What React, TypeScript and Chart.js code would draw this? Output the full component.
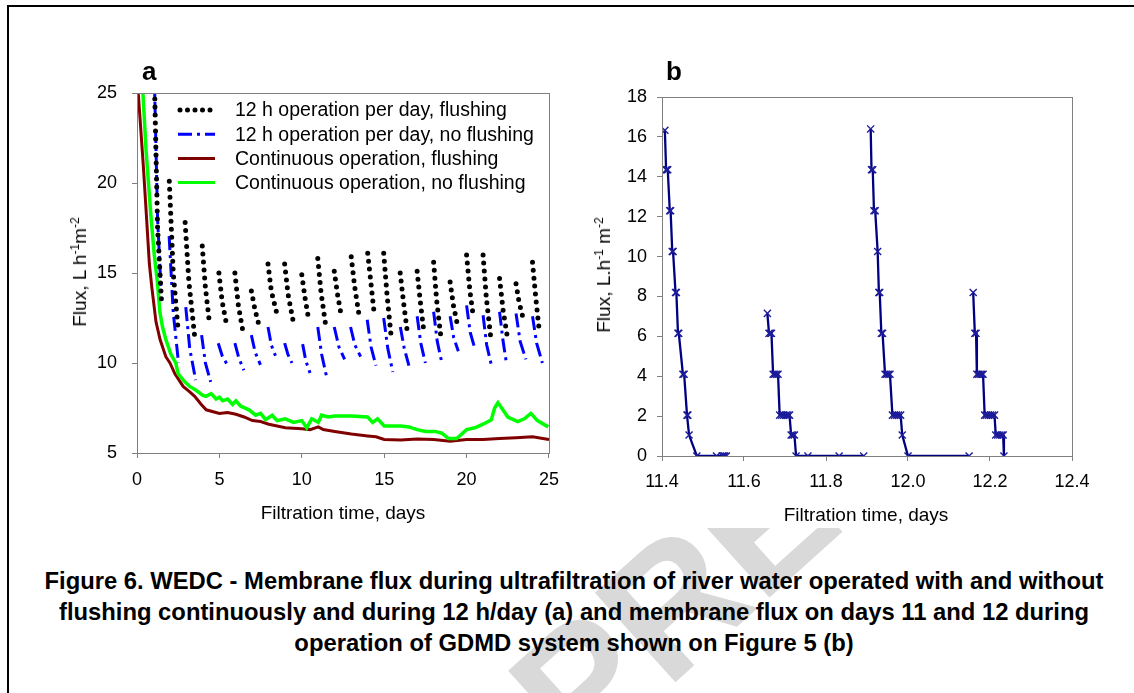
import React, { useEffect, useRef } from "react";
import { Chart, registerables } from "chart.js";

Chart.register(...registerables);

const FONT = "'Liberation Sans', Arial, Helvetica, sans-serif";

// ---------------- Panel a data ----------------
const xTicksA = [0, 5, 10, 15, 20, 25];
const yTicksA = [5, 10, 15, 20, 25];

const legendLabelsA = [
  "12 h operation per day, flushing",
  "12 h operation per day, no flushing",
  "Continuous operation, flushing",
  "Continuous operation, no flushing",
];

// 12 h operation per day, flushing (one sub-array per daily cycle)
const flushCycleDays = [
  [1.05, 1.25, 1.5], [1.96, 2.2, 2.51], [2.92, 3.15, 3.52], [3.96, 4.15, 4.4],
  [4.97, 5.17, 5.42], [5.94, 6.15, 6.42], [6.94, 7.15, 7.43], [7.95, 8.15, 8.5],
  [8.96, 9.17, 9.5], [10.0, 10.2, 10.42], [10.97, 11.17, 11.45], [11.97, 12.17, 12.4],
  [13.0, 13.2, 13.45], [14.0, 14.2, 14.4], [14.97, 15.17, 15.42], [15.97, 16.17, 16.42],
  [17.0, 17.18, 17.4], [18.0, 18.18, 18.42], [19.0, 19.2, 19.45], [20.0, 20.2, 20.42],
  [21.0, 21.2, 21.48], [22.0, 22.22, 22.5], [23.0, 23.18, 23.4], [24.0, 24.2, 24.42],
];
const flushCycleFlux = [
  [26, 17.5, 13.2], [20.1, 15.0, 11.7], [17.8, 14.5, 11.3], [16.5, 14.2, 12.2],
  [15.0, 13.4, 12.2], [15.0, 13.2, 11.8], [14.0, 13.0, 12.0], [15.5, 14.0, 12.7],
  [15.5, 13.8, 12.2], [14.9, 13.6, 12.4], [15.8, 13.9, 12.1], [15.1, 13.8, 12.6],
  [15.9, 14.3, 12.8], [16.1, 14.4, 12.7], [16.1, 13.8, 11.5], [15.0, 13.4, 11.6],
  [15.1, 13.5, 11.8], [15.6, 13.5, 11.6], [14.5, 13.2, 12.1], [16.0, 14.0, 12.5],
  [16.0, 13.6, 11.3], [14.7, 12.9, 11.3], [14.4, 13.4, 12.6], [15.6, 13.6, 11.7],
];

// 12 h operation per day, no flushing
const noFlushCycleDays = [
  [1.05, 1.25, 1.45], [1.95, 2.2, 2.52], [2.96, 3.2, 3.56], [3.92, 4.15, 4.47],
  [4.93, 5.17, 5.48], [5.94, 6.17, 6.48], [6.94, 7.17, 7.49], [7.95, 8.15, 8.4],
  [8.96, 9.15, 9.4], [10.05, 10.25, 10.5], [10.97, 11.2, 11.5], [11.97, 12.25, 12.6],
  [12.96, 13.22, 13.57], [13.97, 14.2, 14.5], [14.97, 15.22, 15.52], [15.98, 16.22, 16.5],
  [17.0, 17.22, 17.5], [18.0, 18.22, 18.5], [19.0, 19.22, 19.5], [20.0, 20.22, 20.5],
  [21.0, 21.22, 21.5], [22.0, 22.2, 22.4], [23.0, 23.25, 23.6], [24.0, 24.25, 24.6],
];
const noFlushCycleFlux = [
  [26, 18.0, 14.2], [17.05, 12.8, 10.0], [13.1, 10.8, 9.05], [11.55, 10.0, 8.95],
  [11.1, 10.4, 9.9], [11.1, 10.3, 9.6], [11.55, 10.6, 9.9], [12.0, 11.0, 10.4],
  [11.1, 10.5, 10.0], [11.05, 10.1, 9.45], [12.0, 10.5, 9.25], [12.0, 10.9, 10.2],
  [12.0, 11.0, 10.35], [12.4, 10.9, 9.85], [12.5, 10.8, 9.5], [12.0, 10.8, 9.85],
  [12.6, 11.1, 10.0], [12.85, 11.2, 10.0], [12.6, 11.4, 10.65], [13.2, 11.7, 10.8],
  [12.65, 11.0, 9.9], [12.85, 11.3, 10.1], [12.75, 11.2, 10.2], [12.6, 11.1, 10.0],
];

// Continuous operation, flushing
const contFlushDays = [
  0.0, 0.38, 0.55, 0.75, 0.9, 1.15, 1.4, 1.75, 2.0, 2.3, 2.8, 3.2, 3.5, 3.9, 4.2,
  5.0, 5.5, 6.0, 6.5, 7.0, 7.5, 8.0, 8.5, 9.0, 10.0, 10.5, 11.0, 11.3, 12.0, 13.0,
  14.0, 14.5, 15.0, 16.0, 17.0, 18.0, 19.0, 20.0, 21.0, 22.0, 23.0, 24.0, 25.0,
];
const contFlushFlux = [
  26, 21, 18.5, 15.5, 14.2, 12.3, 11.3, 10.35, 10.0, 9.4, 8.7, 8.4, 8.15, 7.7, 7.4,
  7.2, 7.25, 7.15, 7.0, 6.8, 6.75, 6.6, 6.5, 6.4, 6.35, 6.3, 6.45, 6.3, 6.2, 6.05,
  5.95, 5.9, 5.75, 5.72, 5.78, 5.75, 5.65, 5.75, 5.75, 5.8, 5.85, 5.9, 5.75,
];

// Continuous operation, no flushing
const contNoFlushDays = [
  0.3, 0.55, 0.85, 1.05, 1.25, 1.39, 1.55, 1.75, 2.05, 2.35, 2.5, 2.86, 3.2, 3.56,
  4.0, 4.17, 4.5, 4.8, 5.0, 5.2, 5.5, 5.8, 6.0, 6.3, 6.8, 7.2, 7.5, 7.8, 8.2, 8.5,
  9.0, 9.5, 10.0, 10.3, 10.6, 11.0, 11.2, 11.6, 12.0, 13.0, 14.0, 14.3, 14.6, 15.0,
  16.0, 16.5, 17.0, 17.5, 18.1, 18.5, 18.9, 19.4, 20.0, 20.5, 21.0, 21.5, 21.7, 21.9,
  22.2, 22.5, 23.1, 23.5, 23.9, 24.3, 24.95,
];
const contNoFlushFlux = [
  26, 21.8, 18.1, 16.0, 14.4, 12.8, 12.0, 11.3, 10.5, 10.0, 9.4, 9.0, 8.7, 8.5,
  8.2, 8.15, 8.3, 8.0, 8.1, 7.9, 8.0, 7.7, 7.9, 7.6, 7.4, 7.1, 7.2, 6.85, 7.1, 6.8,
  6.9, 6.7, 6.8, 6.4, 6.9, 6.7, 7.1, 7.0, 7.05, 7.05, 7.0, 6.7, 6.9, 6.5,
  6.5, 6.45, 6.3, 6.2, 6.2, 6.1, 5.8, 5.8, 6.3, 6.4, 6.6, 6.85, 7.5, 7.8,
  7.4, 7.0, 6.75, 6.9, 7.2, 6.8, 6.45,
];

// ---------------- Panel b data ----------------
const xTicksB = [11.4, 11.6, 11.8, 12.0, 12.2, 12.4];
const yTicksB = [0, 2, 4, 6, 8, 10, 12, 14, 16, 18];

const gdmdDays = [
  11.407, 11.41, 11.412, 11.414, 11.419, 11.421, 11.425, 11.427, 11.433, 11.435,
  11.439, 11.441, 11.451, 11.454, 11.461, 11.463, 11.466, 11.485, 11.533, 11.547,
  11.55, 11.553, 11.557, 11.56,
  11.657, 11.661, 11.664, 11.667, 11.671, 11.675, 11.679, 11.683, 11.687, 11.692,
  11.697, 11.703, 11.707, 11.711, 11.715, 11.719, 11.723, 11.727, 11.756, 11.832,
  11.892, 11.9,
  11.909, 11.911, 11.914, 11.917, 11.92, 11.926, 11.929, 11.931, 11.935, 11.938,
  11.944, 11.948, 11.952, 11.956, 11.962, 11.967, 11.972, 11.977, 11.982, 11.986,
  12.0, 12.149, 12.155,
  12.159, 12.163, 12.166, 12.168, 12.172, 12.176, 12.18, 12.183, 12.187, 12.191,
  12.196, 12.201, 12.206, 12.211, 12.214, 12.219, 12.224, 12.229, 12.232, 12.234,
];
const gdmdFlux = [
  16.33, 14.35, 14.35, 14.35, 12.3, 12.3, 10.25, 10.25, 8.2, 8.2,
  6.15, 6.15, 4.1, 4.1, 2.05, 2.05, 1.05, 0, 0, 0,
  0, 0, 0, null,
  7.15, 6.15, 6.15, 6.15, 4.1, 4.1, 4.1, 4.1, 2.05, 2.05,
  2.05, 2.05, 2.05, 2.05, 1.05, 1.05, 1.05, 0, 0, 0,
  0, null,
  16.4, 14.35, 14.35, 12.3, 12.3, 10.25, 8.2, 8.2, 6.15, 6.15,
  4.1, 4.1, 4.1, 4.1, 2.05, 2.05, 2.05, 2.05, 2.05, 1.05,
  0, 0, null,
  8.2, 6.15, 6.15, 4.1, 4.1, 4.1, 4.1, 4.1, 2.05, 2.05,
  2.05, 2.05, 2.05, 2.05, 1.05, 1.05, 1.05, 1.05, 1.05, 0,
];

// ---------------- helpers ----------------
function cyclesToPoints(days: number[][], flux: number[][]) {
  const pts: { x: number; y: number | null }[] = [];
  days.forEach((d, i) => {
    d.forEach((x, j) => pts.push({ x, y: flux[i][j] }));
    pts.push({ x: d[d.length - 1] + 0.01, y: null });
  });
  return pts;
}
function zipPoints(xs: number[], ys: (number | null)[]) {
  return xs.map((x, i) => ({ x, y: ys[i] }));
}

const COLORS = {
  flush: "#000000",
  noFlush: "#0000ff",
  contFlush: "#800000",
  contNoFlush: "#00ff00",
  navy: "#000080",
  axis: "#808080",
};

const boxPlugin = {
  id: "plotBox",
  afterDatasetsDraw(chart: any) {
    const { ctx, chartArea } = chart;
    ctx.save();
    ctx.strokeStyle = COLORS.axis;
    ctx.lineWidth = 1;
    ctx.strokeRect(
      Math.round(chartArea.left) + 0.5,
      Math.round(chartArea.top) + 0.5,
      Math.round(chartArea.right - chartArea.left),
      Math.round(chartArea.bottom - chartArea.top)
    );
    ctx.restore();
  },
};

const legendPluginA = {
  id: "legendA",
  afterDraw(chart: any) {
    const { ctx, chartArea } = chart;
    const x0 = chartArea.left + 41;
    const x1 = chartArea.left + 78;
    const tx = chartArea.left + 98;
    const styles = [
      { color: COLORS.flush, width: 5, dash: [0, 7.5], cap: "round" },
      { color: COLORS.noFlush, width: 3, dash: [14, 5, 3, 5], cap: "butt" },
      { color: COLORS.contFlush, width: 3, dash: [], cap: "butt" },
      { color: COLORS.contNoFlush, width: 3, dash: [], cap: "butt" },
    ];
    ctx.save();
    legendLabelsA.forEach((label, i) => {
      const y = chartArea.top + 17 + i * 24.2;
      const s = styles[i];
      ctx.beginPath();
      ctx.strokeStyle = s.color;
      ctx.lineWidth = s.width;
      ctx.lineCap = s.cap;
      ctx.setLineDash(s.dash);
      ctx.moveTo(x0 + (i === 0 ? 2 : 0), y);
      ctx.lineTo(x1, y);
      ctx.stroke();
      ctx.setLineDash([]);
      ctx.fillStyle = "#000";
      ctx.font = `19.5px ${FONT}`;
      ctx.textAlign = "left";
      ctx.textBaseline = "middle";
      ctx.fillText(label, tx, y + 1);
    });
    ctx.restore();
  },
};

function axisCommon(extra: any) {
  return {
    type: "linear",
    grid: {
      display: true,
      drawOnChartArea: false,
      drawTicks: true,
      tickLength: 5,
      color: COLORS.axis,
      tickColor: COLORS.axis,
    },
    border: { display: true, color: COLORS.axis, width: 1 },
    ...extra,
  };
}

function makeConfigA(): any {
  return {
    type: "line",
    data: {
      datasets: [
        {
          label: legendLabelsA[0],
          data: cyclesToPoints(flushCycleDays, flushCycleFlux),
          borderColor: COLORS.flush,
          borderWidth: 5,
          borderDash: [0, 8],
          borderCapStyle: "round",
          pointRadius: 0,
          order: 0,
        },
        {
          label: legendLabelsA[1],
          data: cyclesToPoints(noFlushCycleDays, noFlushCycleFlux),
          borderColor: COLORS.noFlush,
          borderWidth: 3,
          borderDash: [14, 5, 3, 5],
          pointRadius: 0,
          order: 1,
        },
        {
          label: legendLabelsA[2],
          data: zipPoints(contFlushDays, contFlushFlux),
          borderColor: COLORS.contFlush,
          borderWidth: 3,
          pointRadius: 0,
          order: 3,
        },
        {
          label: legendLabelsA[3],
          data: zipPoints(contNoFlushDays, contNoFlushFlux),
          borderColor: COLORS.contNoFlush,
          borderWidth: 3.5,
          pointRadius: 0,
          order: 2,
        },
      ],
    },
    options: {
      responsive: false,
      animation: false,
      devicePixelRatio: 1,
      spanGaps: false,
      layout: { padding: { top: 53, right: 19, left: 0, bottom: 0 } },
      plugins: { legend: { display: false }, tooltip: { enabled: false } },
      scales: {
        x: axisCommon({
          min: xTicksA[0],
          max: xTicksA[xTicksA.length - 1],
          afterFit: (s: any) => { s.height = 87; },
          afterBuildTicks: (s: any) => { s.ticks = xTicksA.map((v) => ({ value: v })); },
          ticks: { color: "#000", font: { family: FONT, size: 18 }, padding: 11, maxRotation: 0 },
        }),
        y: axisCommon({
          min: yTicksA[0],
          max: yTicksA[yTicksA.length - 1],
          afterFit: (s: any) => { s.width = 97; },
          afterBuildTicks: (s: any) => { s.ticks = yTicksA.map((v) => ({ value: v })); },
          ticks: { color: "#000", font: { family: FONT, size: 18 }, padding: 15 },
        }),
      },
    },
    plugins: [boxPlugin, legendPluginA],
  };
}

function makeConfigB(): any {
  return {
    type: "line",
    data: {
      datasets: [
        {
          label: "GDMD",
          data: zipPoints(gdmdDays, gdmdFlux),
          borderColor: COLORS.navy,
          borderWidth: 2.3,
          pointStyle: "crossRot",
          pointRadius: 5,
          pointBorderWidth: 1.4,
          pointBorderColor: "#1c1c9a",
          pointBackgroundColor: "#1c1c9a",
          spanGaps: false,
        },
      ],
    },
    options: {
      responsive: false,
      animation: false,
      devicePixelRatio: 1,
      layout: { padding: { top: 57, right: 28, left: 0, bottom: 0 } },
      plugins: { legend: { display: false }, tooltip: { enabled: false } },
      scales: {
        x: axisCommon({
          min: xTicksB[0],
          max: xTicksB[xTicksB.length - 1],
          afterFit: (s: any) => { s.height = 84; },
          afterBuildTicks: (s: any) => { s.ticks = xTicksB.map((v) => ({ value: v })); },
          ticks: {
            color: "#000",
            font: { family: FONT, size: 18 },
            padding: 10,
            maxRotation: 0,
            callback: (v: any) => Number(v).toFixed(1),
          },
        }),
        y: axisCommon({
          min: yTicksB[0],
          max: yTicksB[yTicksB.length - 1],
          afterFit: (s: any) => { s.width = 82; },
          afterBuildTicks: (s: any) => { s.ticks = yTicksB.map((v) => ({ value: v })); },
          ticks: { color: "#000", font: { family: FONT, size: 18 }, padding: 10 },
        }),
      },
    },
    plugins: [boxPlugin],
  };
}

function ChartCanvas(props: { make: () => any; left: number; top: number; width: number; height: number }) {
  const ref = useRef<HTMLCanvasElement>(null);
  useEffect(() => {
    const chart = new Chart(ref.current as HTMLCanvasElement, props.make());
    return () => chart.destroy();
  }, []);
  return (
    <canvas
      ref={ref}
      width={props.width}
      height={props.height}
      style={{
        position: "absolute",
        left: props.left,
        top: props.top,
        width: props.width,
        height: props.height,
        zIndex: 2,
      }}
    />
  );
}

const supStyle: React.CSSProperties = { fontSize: 12, verticalAlign: "0.55em", lineHeight: 0 };

export default function App() {
  const text = (extra: React.CSSProperties): React.CSSProperties => ({
    position: "absolute",
    whiteSpace: "nowrap",
    fontFamily: FONT,
    color: "#000",
    zIndex: 3,
    ...extra,
  });
  return (
    <div
      style={{
        position: "absolute",
        left: 0,
        top: 0,
        width: 1134,
        height: 693,
        overflow: "hidden",
        background: "#fff",
      }}
    >
      {/* page frame */}
      <div
        style={{
          position: "absolute",
          left: 7,
          top: 5,
          width: 1130,
          height: 720,
          borderTop: "2px solid #000",
          borderLeft: "2px solid #000",
        }}
      />
      {/* watermark, only visible below the figure image */}
      <div
        style={{
          position: "absolute",
          left: 0,
          top: 528,
          width: 1134,
          height: 165,
          overflow: "hidden",
          zIndex: 1,
        }}
      >
        <div
          style={{
            position: "absolute",
            left: 580,
            top: 92,
            fontFamily: FONT,
            fontWeight: "bold",
            fontSize: 175,
            lineHeight: "175px",
            color: "#d9d9d9",
            transformOrigin: "0px 148px",
            transform: "rotate(-42deg)",
            whiteSpace: "nowrap",
          }}
        >
          PRE
        </div>
      </div>

      <ChartCanvas make={makeConfigA} left={40} top={40} width={530} height={500} />
      <ChartCanvas make={makeConfigB} left={580} top={40} width={520} height={500} />

      {/* panel letters */}
      <div style={text({ left: 142, top: 58, fontSize: 26, fontWeight: "bold", lineHeight: "26px" })}>a</div>
      <div style={text({ left: 666, top: 58, fontSize: 26, fontWeight: "bold", lineHeight: "26px" })}>b</div>

      {/* axis titles */}
      <div style={text({ left: 80, top: 272, fontSize: 19, transform: "translate(-50%,-50%) rotate(-90deg)" })}>
        Flux, L h<sup style={supStyle}>-1</sup>m<sup style={supStyle}>-2</sup>
      </div>
      <div style={text({ left: 604, top: 275, fontSize: 19, transform: "translate(-50%,-50%) rotate(-90deg)" })}>
        Flux, L.h<sup style={supStyle}>-1</sup> m<sup style={supStyle}>-2</sup>
      </div>
      <div style={text({ left: 343, top: 513, fontSize: 19, transform: "translate(-50%,-50%)" })}>
        Filtration time, days
      </div>
      <div style={text({ left: 866, top: 515, fontSize: 19, transform: "translate(-50%,-50%)" })}>
        Filtration time, days
      </div>

      {/* caption */}
      <div
        style={text({
          left: 7,
          width: 1134,
          top: 565,
          textAlign: "center",
          fontSize: 23.8,
          fontWeight: "bold",
          lineHeight: "31px",
        })}
      >
        Figure 6. WEDC - Membrane flux during ultrafiltration of river water operated with and without
        <br />
        flushing continuously and during 12 h/day (a) and membrane flux on days 11 and 12 during
        <br />
        operation of GDMD system shown on Figure 5 (b)
      </div>
    </div>
  );
}
